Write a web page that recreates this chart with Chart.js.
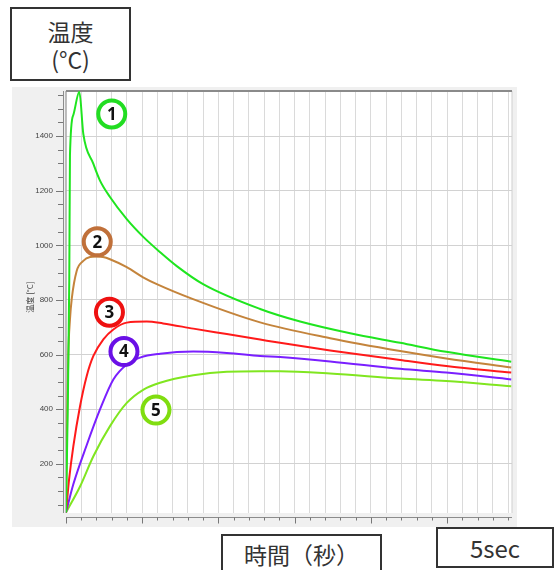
<!DOCTYPE html>
<html>
<head>
<meta charset="utf-8">
<script src="https://cdn.jsdelivr.net/npm/chart.js@4.4.0/dist/chart.umd.min.js"></script>
<style>
html, body { margin: 0; padding: 0; background: #fff; }
#wrap { position: relative; width: 554px; height: 570px; overflow: hidden; }
#c { position: absolute; left: 0; top: 0; }
.box {
  position: absolute; box-sizing: border-box; border: 2px solid #333; background: #fff;
  color: #333; font-family: "Noto Sans CJK JP", "Noto Sans", sans-serif; text-align: center;
}
</style>
</head>
<body>
<div id="wrap">
  <canvas id="c" width="554" height="570"></canvas>
  <div class="box" style="left:10px;top:7px;width:121px;height:74px;font-size:23px;line-height:28px;padding-top:8px;">温度<br>(°C)</div>
  <div class="box" style="left:221px;top:534px;width:161px;height:46px;font-size:23px;line-height:36px;">時間（秒）</div>
  <div class="box" style="left:436px;top:527px;width:118px;height:41px;font-size:24px;line-height:37px;">5sec</div>
</div>
<script>
// Temperature curves over time (major x tick = 1 time unit)
const t1 = [0, 0.022, 0.043, 0.052, 0.096, 0.175, 0.227, 0.358, 0.446, 0.577, 0.797, 1.017, 1.234, 1.453, 1.798, 2.546, 3.071, 3.727, 4.383, 4.987, 5.84];
const temp1 = [22, 388, 875, 1330, 1477, 1562, 1408, 1299, 1237, 1177, 1096, 1030, 975, 924, 858, 767, 721, 678, 643, 610, 574];

const t2 = [0, 0.013, 0.03, 0.052, 0.075, 0.14, 0.227, 0.315, 0.403, 0.486, 0.577, 0.797, 1.011, 1.191, 1.667, 2.546, 3.465, 4.383, 4.987, 5.84];
const temp2 = [30, 325, 600, 729, 803, 906, 943, 957, 959, 957, 949, 920, 883, 858, 803, 718, 660, 613, 586, 553];

const t3 = [0, 0.04, 0.096, 0.184, 0.271, 0.359, 0.49, 0.621, 0.797, 1.059, 1.273, 1.671, 2.109, 2.546, 2.808, 3.465, 4.383, 4.987, 5.84];
const temp3 = [22, 142, 264, 411, 521, 595, 656, 692, 717, 721, 714, 695, 675, 655, 643, 615, 580, 558, 534];

const t4 = [0, 0.096, 0.271, 0.446, 0.621, 0.797, 0.971, 1.234, 1.671, 2.109, 2.546, 2.808, 3.465, 4.383, 4.987, 5.84];
const temp4 = [22, 125, 268, 399, 509, 564, 589, 603, 611, 606, 595, 591, 575, 548, 534, 509];

const t5 = [0, 0.184, 0.359, 0.577, 0.797, 1.017, 1.234, 1.671, 2.109, 2.546, 2.808, 3.465, 4.383, 4.987, 5.84];
const temp5 = [22, 117, 228, 338, 423, 472, 497, 524, 537, 539, 539, 531, 512, 503, 484];

const seriesColors = ['#1fe51f', '#c4843c', '#ff1a1a', '#7a1fff', '#80e620'];
const badgeColors = ['#22dd22', '#c0703a', '#ee1111', '#6a10e6', '#80dd10'];
const badgeText = ['1', '2', '3', '4', '5'];
// Badge anchors in data units (time, °C)
const badgeTime = [0.60, 0.41, 0.57, 0.76, 1.18];
const badgeTemp = [1481, 1013, 755, 611, 397];

const yTickValues = [];
for (let v = 50; v <= 1550; v += 50) yTickValues.push(v);
const xTickValues = [];
for (let i = 0; i <= 29; i++) xTickValues.push(Math.round(i * 20) / 100);

const X_MAX = 5.85, Y_MIN = 20, Y_MAX = 1565;

function pts(xs, ys) { return xs.map((x, i) => ({ x, y: ys[i] })); }

const frame = {
  id: 'frame',
  beforeDraw(chart) {
    const { ctx, chartArea: a } = chart;
    ctx.save();
    ctx.fillStyle = '#fff';
    ctx.fillRect(0, 0, chart.width, chart.height);
    ctx.fillStyle = '#f0f0f0';
    ctx.fillRect(12, a.top - 4, a.right + 5 - 12, a.bottom + 14 - (a.top - 4));
    ctx.fillStyle = '#fff';
    ctx.fillRect(a.left, a.top, a.right - a.left, a.bottom - a.top);
    ctx.restore();
  },
  beforeDatasetsDraw(chart) {
    const { ctx, chartArea: a, scales } = chart;
    ctx.save();
    // plot frame
    ctx.strokeStyle = '#a8a8a8'; ctx.lineWidth = 1.5;
    ctx.beginPath(); ctx.moveTo(a.left, a.top); ctx.lineTo(a.left, a.bottom); ctx.stroke();
    ctx.strokeStyle = '#cfcfcf'; ctx.lineWidth = 1;
    ctx.beginPath(); ctx.moveTo(a.right, a.top); ctx.lineTo(a.right, a.bottom); ctx.stroke();
    ctx.strokeStyle = '#8a8a8a'; ctx.lineWidth = 2;
    ctx.beginPath(); ctx.moveTo(a.left, a.top); ctx.lineTo(a.right, a.top); ctx.stroke();
    // y axis line and tick marks
    const yx = a.left - 3;
    ctx.strokeStyle = '#8c8c8c'; ctx.lineWidth = 1;
    ctx.beginPath(); ctx.moveTo(yx + 0.5, a.top); ctx.lineTo(yx + 0.5, a.bottom); ctx.stroke();
    ctx.strokeStyle = '#777';
    yTickValues.forEach(v => {
      const py = Math.round(scales.y.getPixelForValue(v)) + 0.5;
      const len = v % 200 === 0 ? 7 : 5;
      ctx.beginPath(); ctx.moveTo(yx - len, py); ctx.lineTo(yx, py); ctx.stroke();
    });
    // x axis line and tick marks
    const xy = a.bottom + 4.5;
    ctx.strokeStyle = '#8c8c8c';
    ctx.beginPath(); ctx.moveTo(a.left, xy); ctx.lineTo(a.right, xy); ctx.stroke();
    ctx.strokeStyle = '#777';
    xTickValues.forEach(v => {
      const px = Math.round(scales.x.getPixelForValue(v)) + 0.5;
      const major = Math.abs(v - Math.round(v)) < 1e-6;
      ctx.beginPath(); ctx.moveTo(px, xy); ctx.lineTo(px, xy + (major ? 6 : 3)); ctx.stroke();
    });
    // y axis title
    ctx.translate(30, (a.top + a.bottom) / 2 - 5);
    ctx.rotate(-Math.PI / 2);
    ctx.fillStyle = '#444';
    ctx.font = '8px "Noto Sans CJK JP", sans-serif';
    ctx.textAlign = 'center'; ctx.textBaseline = 'middle';
    ctx.fillText('温度 [°C]', 0, 0);
    ctx.restore();
  },
  afterDatasetsDraw(chart) {
    const { ctx, scales } = chart;
    ctx.save();
    badgeText.forEach((txt, i) => {
      const cx = scales.x.getPixelForValue(badgeTime[i]);
      const cy = scales.y.getPixelForValue(badgeTemp[i]);
      ctx.beginPath();
      ctx.arc(cx, cy, 13.5, 0, Math.PI * 2);
      ctx.fillStyle = '#fff'; ctx.fill();
      ctx.lineWidth = 4; ctx.strokeStyle = badgeColors[i]; ctx.stroke();
      ctx.fillStyle = '#111';
      ctx.font = 'bold 17px "Noto Sans", sans-serif';
      ctx.textAlign = 'center'; ctx.textBaseline = 'middle';
      ctx.fillText(txt, cx, cy + 1);
    });
    ctx.restore();
  }
};

const datasets = [
  [t1, temp1], [t2, temp2], [t3, temp3], [t4, temp4], [t5, temp5]
].map(([xs, ys], i) => ({
  data: pts(xs, ys),
  borderColor: seriesColors[i],
  borderWidth: 2,
  pointRadius: 0,
  fill: false,
  cubicInterpolationMode: 'monotone'
}));

new Chart(document.getElementById('c'), {
  type: 'line',
  data: { datasets },
  plugins: [frame],
  options: {
    responsive: false,
    animation: false,
    devicePixelRatio: 1,
    layout: { padding: { left: 12, top: 91, right: 42, bottom: 47 } },
    plugins: { legend: { display: false }, tooltip: { enabled: false } },
    scales: {
      x: {
        type: 'linear', min: 0, max: X_MAX,
        afterFit(s) { s.height = 10; },
        afterBuildTicks(s) { s.ticks = xTickValues.map(v => ({ value: v })); },
        ticks: { display: false },
        grid: {
          drawTicks: false, lineWidth: 1,
          color: c => (c.tick && c.tick.value === 0 ? 'rgba(0,0,0,0)' : '#dadada')
        },
        border: { display: false }
      },
      y: {
        type: 'linear', min: Y_MIN, max: Y_MAX,
        afterFit(s) { s.width = 54; },
        afterBuildTicks(s) { s.ticks = yTickValues.map(v => ({ value: v })); },
        ticks: {
          autoSkip: false, padding: 13, color: '#444',
          font: { size: 8, family: '"Liberation Sans", Arial, sans-serif' },
          callback: v => (v % 200 === 0 ? String(v) : '')
        },
        grid: {
          drawTicks: false, lineWidth: 1,
          color: c => (c.tick && c.tick.value % 200 === 0 ? '#d2d2d2' : 'rgba(0,0,0,0)')
        },
        border: { display: false }
      }
    }
  }
});
</script>
</body>
</html>
